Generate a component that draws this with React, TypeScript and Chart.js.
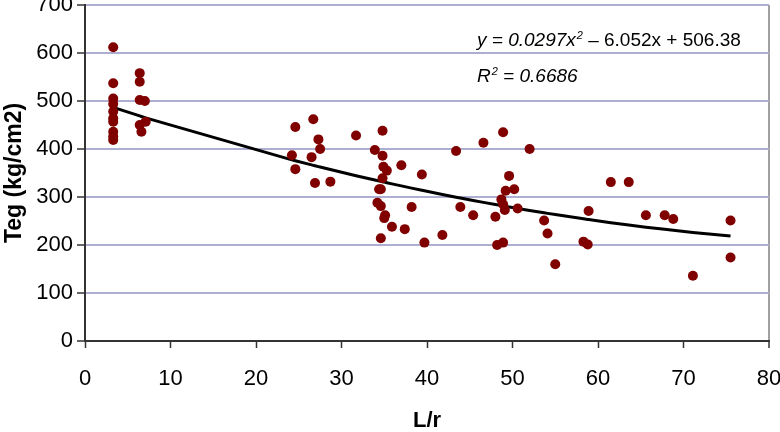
import React, { useEffect, useRef } from "react";
import { Chart, registerables } from "chart.js";

Chart.register(...registerables);

// Measured points: L/r (x) and Teg in kg/cm2 (y)
const LR_VALUES: number[] = [
  3.3, 3.3, 3.3, 3.3, 3.3, 3.3, 3.3, 3.3, 3.3, 3.3,
  6.4, 6.4, 6.4, 7.0, 6.4, 7.1, 6.6,
  24.6, 26.7, 27.3, 27.5, 24.2, 26.5, 24.6, 26.9, 28.7, 31.7,
  34.8, 33.9, 34.8, 34.9, 35.3, 34.8, 37.0, 39.4, 34.4, 34.6,
  34.2, 34.6, 35.1, 35.0, 35.9, 37.4, 38.2, 34.6, 39.7,
  48.9, 46.6, 43.4, 52.0, 49.6, 49.2, 50.2, 48.7, 49.1, 50.6,
  48.9, 43.9, 45.4, 48.0, 53.7, 54.1, 41.8, 48.2, 48.9, 55.0,
  58.9, 58.3, 58.8, 61.5, 63.6, 65.6, 67.8, 68.8, 71.1, 75.5, 75.5,
];
const TEG_VALUES: number[] = [
  612, 537, 505, 494, 478, 464, 457, 436, 426, 419,
  558, 540, 502, 500, 450, 457, 436,
  446, 462, 420, 400, 387, 383, 358, 329, 332, 428,
  438, 398, 386, 363, 355, 339, 366, 347, 316, 316,
  288, 281, 262, 256, 238, 233, 279, 214, 205,
  435, 413, 396, 400, 344, 313, 316, 295, 273, 276,
  285, 279, 262, 259, 251, 224, 221, 200, 205, 160,
  271, 207, 201, 331, 331, 262, 262, 254, 136, 251, 174,
];

// Polynomial trendline coefficients shown on the chart: a*x^2 + b*x + c
const TREND_COEFFS: number[] = [0.0297, -6.052, 506.38];
const EQUATION_TEXT = "y = 0.0297x";
const EQUATION_REST = " \u2013 6.052x + 506.38";
const R2_TEXT = "0.6686";

const X_TITLE = "L/r";
const Y_TITLE = "Teg (kg/cm2)";

const FONT = "'Liberation Sans', Arial, sans-serif";

export default function App() {
  const ref = useRef<HTMLCanvasElement | null>(null);

  useEffect(() => {
    document.body.style.margin = "0";
    const canvas = ref.current;
    if (!canvas) return;

    const points = LR_VALUES.map((x, i) => ({ x, y: TEG_VALUES[i] }));
    const xsSorted = Array.from(new Set(LR_VALUES)).sort((a, b) => a - b);
    const trend = xsSorted.map((x) => ({
      x,
      y: TREND_COEFFS[0] * x * x + TREND_COEFFS[1] * x + TREND_COEFFS[2],
    }));

    const equationPlugin = {
      id: "equation",
      afterDraw(chart: any) {
        const ctx = chart.ctx;
        ctx.save();
        ctx.fillStyle = "#000";
        ctx.textBaseline = "alphabetic";
        ctx.textAlign = "left";
        let x = 477;
        const y1 = 46;
        ctx.font = `italic 19px ${FONT}`;
        ctx.fillText(EQUATION_TEXT, x, y1);
        x += ctx.measureText(EQUATION_TEXT).width;
        ctx.font = `italic 11px ${FONT}`;
        ctx.fillText("2", x + 1, y1 - 7);
        x += ctx.measureText("2").width + 1;
        ctx.font = `19px ${FONT}`;
        ctx.fillText(EQUATION_REST, x, y1);

        let x2 = 477;
        const y2 = 82;
        ctx.font = `italic 19px ${FONT}`;
        ctx.fillText("R", x2, y2);
        x2 += ctx.measureText("R").width;
        ctx.font = `italic 11px ${FONT}`;
        ctx.fillText("2", x2 + 1, y2 - 7);
        x2 += ctx.measureText("2").width + 1;
        ctx.font = `italic 19px ${FONT}`;
        ctx.fillText(" = " + R2_TEXT, x2, y2);
        ctx.restore();
      },
    };

    const chart = new Chart(canvas, {
      type: "scatter",
      data: {
        datasets: [
          {
            label: "Teg",
            data: points,
            backgroundColor: "#800000",
            borderColor: "#800000",
            borderWidth: 0,
            pointRadius: 5,
            order: 1,
          },
          {
            label: "Trend",
            type: "line",
            data: trend,
            borderColor: "#000",
            borderWidth: 3,
            pointRadius: 0,
            fill: false,
            tension: 0,
            order: 2,
          } as any,
        ],
      },
      options: {
        responsive: false,
        animation: false,
        layout: { padding: { top: 5, right: 11, left: 0, bottom: 0 } },
        plugins: {
          legend: { display: false },
          tooltip: { enabled: false },
        },
        scales: {
          x: {
            type: "linear",
            min: 0,
            max: 80,
            ticks: {
              stepSize: 10,
              color: "#000",
              padding: 18,
              font: { family: FONT, size: 22 },
            },
            grid: {
              drawOnChartArea: true,
              color: (c: any) =>
                c.tick && c.tick.value === 80 ? "#a0a0a0" : "rgba(0,0,0,0)",
              lineWidth: (c: any) => (c.tick && c.tick.value === 80 ? 2 : 1),
              tickColor: "#333",
              tickLength: 7,
              tickWidth: 1.5,
            },
            border: { color: "#333", width: 2 },
            title: {
              display: true,
              text: X_TITLE,
              color: "#000",
              font: { family: FONT, size: 22, weight: "bold", lineHeight: 1 },
              padding: { top: 0, bottom: 0 },
            },
            afterFit: (s: any) => {
              s.height = 91;
              s.paddingLeft = 0;
              s.paddingRight = 0;
            },
          },
          y: {
            type: "linear",
            min: 0,
            max: 700,
            ticks: {
              stepSize: 100,
              color: "#000",
              padding: 4,
              font: { family: FONT, size: 22 },
            },
            grid: {
              color: "#aeaed2",
              lineWidth: 2,
              tickColor: "#333",
              tickLength: 8,
              tickWidth: 1.5,
            },
            border: { color: "#333", width: 2 },
            title: {
              display: true,
              text: Y_TITLE,
              color: "#000",
              font: { family: FONT, size: 23, weight: "bold", lineHeight: 1 },
              padding: { top: 3, bottom: 0 },
            },
            afterFit: (s: any) => {
              s.width = 85;
              s.paddingTop = 0;
              s.paddingBottom = 0;
            },
          },
        },
      },
      plugins: [equationPlugin],
    } as any);

    return () => chart.destroy();
  }, []);

  return (
    <div style={{ width: 780, height: 432 }}>
      <canvas ref={ref} width={780} height={432} />
    </div>
  );
}
